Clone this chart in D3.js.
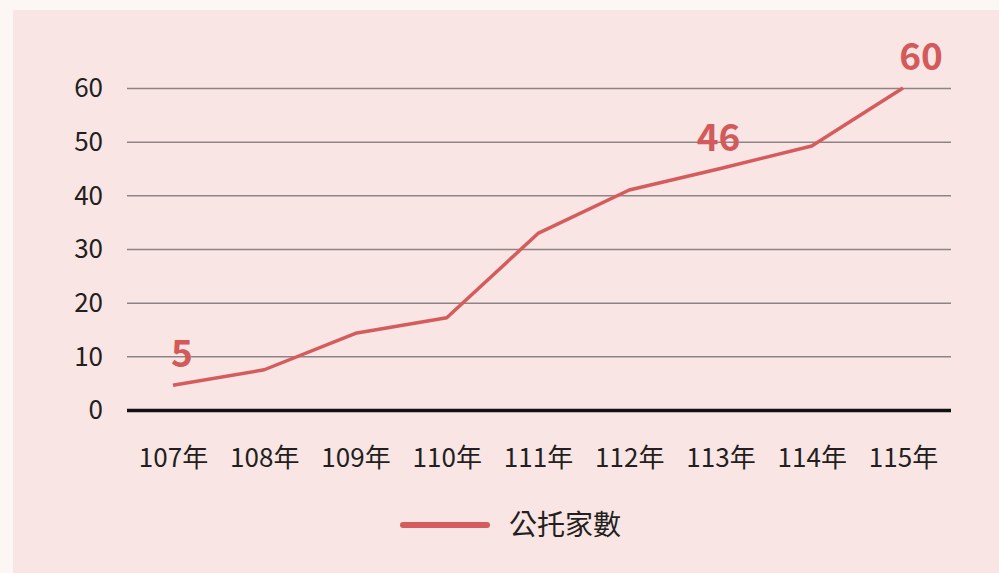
<!DOCTYPE html>
<html>
<head>
<meta charset="utf-8">
<script src="https://cdn.jsdelivr.net/npm/d3@7"></script>
<style>
html,body{margin:0;padding:0;background:#fcf6f4;}
svg{display:block;}
</style>
</head>
<body>
<svg id="chart" width="999" height="573"></svg>
<script>
const categories = ["107年","108年","109年","110年","111年","112年","113年","114年","115年"];
const values = [4.6, 7.5, 14.3, 17.2, 32.9, 41, 45, 49.2, 60];
const yTicks = [0, 10, 20, 30, 40, 50, 60];
const seriesName = "公托家數";
const dataLabels = [
  {index: 0, text: "5"},
  {index: 6, text: "46"},
  {index: 8, text: "60"}
];

const W = 999, H = 573;
const font = "'Noto Sans CJK TC','Noto Sans',sans-serif";
const lineColor = "#d45c5c";
const svg = d3.select("#chart");

svg.append("rect").attr("x",0).attr("y",0).attr("width",W).attr("height",H).attr("fill","#fcf6f4");
svg.append("rect").attr("x",13).attr("y",10).attr("width",W-13).attr("height",H-10).attr("fill","#f9e5e4");

const x = d3.scalePoint().domain(categories).range([173, 903]);
const y = d3.scaleLinear().domain([0, 60]).range([410, 88]);
const left = 127, right = 951;

// gridlines
const yAxis = d3.axisLeft(y).tickValues(yTicks).tickSize(-(right-left)).tickPadding(24).tickFormat(d3.format("d"));
const gy = svg.append("g").attr("transform",`translate(${left},0)`).call(yAxis);
gy.select(".domain").remove();
gy.selectAll(".tick line").attr("stroke","#8d8585").attr("stroke-width",1.5);
gy.selectAll(".tick text").attr("font-family",font).attr("font-size",26).attr("fill","#231f20").attr("dy","0.34em");
gy.selectAll(".tick").filter(d=>d===0).select("line").attr("stroke","#111").attr("stroke-width",3.5);

// x axis labels
const xAxis = d3.axisBottom(x).tickSize(0).tickPadding(0);
const gx = svg.append("g").attr("transform",`translate(0,${y(0)})`).call(xAxis);
gx.select(".domain").remove();
gx.selectAll(".tick text").attr("font-family",font).attr("font-size",26).attr("fill","#231f20").attr("dy","0").attr("y",57);

// line
const line = d3.line().x((d,i)=>x(categories[i])).y(d=>y(d));
svg.append("path").datum(values).attr("d",line).attr("fill","none")
  .attr("stroke",lineColor).attr("stroke-width",3.5).attr("stroke-linejoin","round");

// data labels
const dxOff = {0: 9, 6: -2, 8: 18};
svg.selectAll("text.dl").data(dataLabels).enter().append("text").attr("class","dl")
  .attr("x", d=>x(categories[d.index]) + dxOff[d.index])
  .attr("y", d=>y(values[d.index]) - 18)
  .attr("text-anchor","middle").attr("font-family",font).attr("font-weight","bold")
  .attr("font-size",37).attr("fill","#d25a5a").text(d=>d.text);

// legend
svg.append("line").attr("x1",403).attr("x2",487).attr("y1",525).attr("y2",525)
  .attr("stroke",lineColor).attr("stroke-width",6).attr("stroke-linecap","round");
svg.append("text").attr("x",509).attr("y",525).attr("dy","0.35em").attr("font-family",font)
  .attr("font-size",28).attr("fill","#231f20").text(seriesName);
</script>
</body>
</html>
